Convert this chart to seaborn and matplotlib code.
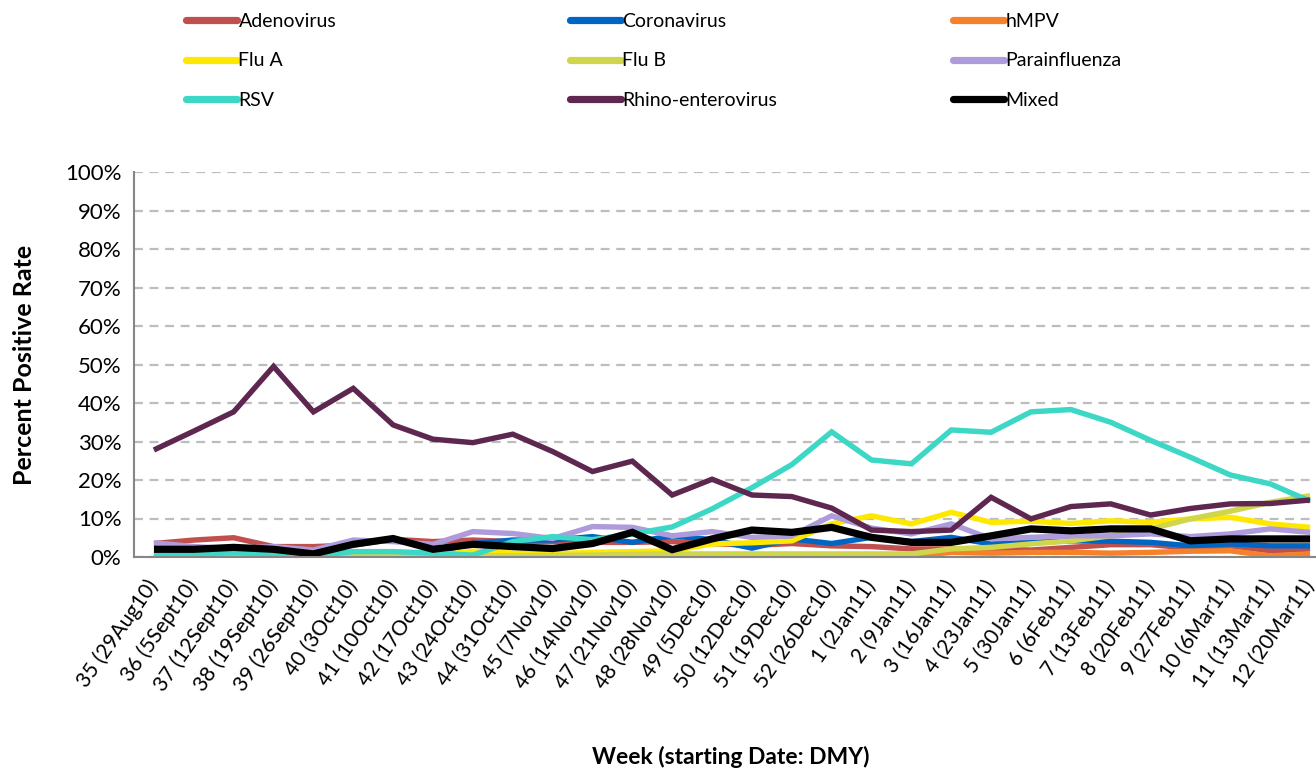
import numpy as np
import pandas as pd
import matplotlib
matplotlib.use("Agg")
import matplotlib.pyplot as plt
import matplotlib.transforms as mtransforms
import seaborn as sns
from matplotlib.lines import Line2D

# ── data (percent positive per week) ─────────────────────────────────────────
weeks = [
    "35 (29Aug10)", "36 (5Sept10)", "37 (12Sept10)", "38 (19Sept10)", "39 (26Sept10)",
    "40 (3Oct10)", "41 (10Oct10)", "42 (17Oct10)", "43 (24Oct10)", "44 (31Oct10)",
    "45 (7Nov10)", "46 (14Nov10)", "47 (21Nov10)", "48 (28Nov10)", "49 (5Dec10)",
    "50 (12Dec10)", "51 (19Dec10)", "52 (26Dec10)", "1 (2Jan11)", "2 (9Jan11)",
    "3 (16Jan11)", "4 (23Jan11)", "5 (30Jan11)", "6 (6Feb11)", "7 (13Feb11)",
    "8 (20Feb11)", "9 (27Feb11)", "10 (6Mar11)", "11 (13Mar11)", "12 (20Mar11)",
]

adenovirus = [3.5, 4.4, 5.0, 2.7, 2.7, 3.1, 4.6, 4.0, 4.4, 4.0, 4.0, 3.8, 3.8, 4.0, 3.5,
              3.0, 3.5, 2.9, 2.7, 2.1, 2.1, 2.1, 1.8, 2.5, 3.2, 3.2, 2.3, 2.9, 1.6, 2.1]
coronavirus = [0.3, 0.3, 0.3, 0.3, 0.3, 0.5, 0.8, 1.0, 3.5, 4.4, 4.4, 5.3, 3.8, 5.5, 4.5,
               2.3, 4.7, 3.5, 5.1, 4.0, 5.1, 3.4, 3.8, 4.2, 4.1, 3.8, 2.9, 3.4, 2.9, 2.9]
hmpv = [0.2, 0.2, 0.2, 0.2, 0.2, 0.2, 0.2, 0.2, 0.2, 0.2, 0.2, 0.2, 0.2, 0.2, 0.2,
        0.2, 0.2, 0.2, 0.2, 0.2, 1.2, 1.0, 1.2, 1.2, 1.0, 1.2, 1.5, 1.6, 0.3, 0.8]
flu_a = [0.3, 0.3, 0.3, 0.3, 0.3, 0.3, 0.3, 0.3, 1.5, 1.0, 0.8, 1.2, 1.4, 1.6, 3.4,
         3.7, 4.2, 8.6, 10.7, 8.6, 11.6, 9.0, 9.3, 8.7, 9.4, 9.0, 9.9, 10.3, 8.6, 7.7]
flu_b = [0.2, 0.2, 0.2, 0.2, 0.2, 0.2, 0.3, 0.3, 0.3, 0.3, 0.4, 0.5, 0.7, 0.8, 0.8,
         0.8, 0.8, 0.8, 0.8, 0.8, 2.1, 2.5, 3.4, 4.2, 5.5, 7.3, 9.9, 11.9, 14.2, 15.9]
parainfluenza = [3.7, 2.7, 2.2, 2.7, 1.8, 4.4, 4.0, 3.3, 6.6, 6.1, 4.8, 7.9, 7.7, 5.5, 6.6,
                 5.1, 5.5, 10.7, 7.5, 6.0, 8.6, 4.7, 5.1, 5.5, 5.5, 6.0, 5.3, 6.0, 7.3, 6.4]
rsv = [0.5, 0.8, 1.1, 0.8, 0.3, 1.4, 1.4, 1.0, 0.5, 4.0, 5.3, 4.5, 6.0, 7.8, 12.5,
       18.0, 24.0, 32.5, 25.2, 24.2, 33.0, 32.4, 37.7, 38.3, 35.0, 30.3, 25.9, 21.3, 19.0, 14.5]
rhino = [27.8, 32.7, 37.7, 49.5, 37.7, 43.8, 34.3, 30.6, 29.7, 31.9, 27.4, 22.2, 24.9, 16.1, 20.2,
         16.1, 15.7, 12.7, 7.0, 6.6, 7.0, 15.5, 9.9, 13.1, 13.8, 10.9, 12.6, 13.8, 13.9, 14.8]
mixed = [2.0, 2.0, 2.5, 2.0, 0.8, 3.3, 4.8, 2.0, 3.3, 2.7, 2.2, 3.5, 6.4, 1.9, 4.7,
         7.0, 6.4, 7.7, 5.1, 3.8, 3.8, 5.5, 7.3, 6.8, 7.3, 7.3, 4.2, 4.7, 4.7, 4.7]

series_names = ["Adenovirus", "Coronavirus", "hMPV", "Flu A", "Flu B",
                "Parainfluenza", "RSV", "Rhino-enterovirus", "Mixed"]
series_values = [adenovirus, coronavirus, hmpv, flu_a, flu_b,
                 parainfluenza, rsv, rhino, mixed]
colors = ["#C0504D", "#0066C4", "#F5822A", "#FFE800", "#CFD64B",
          "#AE9BDB", "#3CD7C5", "#5E2750", "#000000"]

df = pd.concat([
    pd.DataFrame({"week": np.arange(len(weeks)), "virus": n, "rate": v})
    for n, v in zip(series_names, series_values)
])

# ── style ────────────────────────────────────────────────────────────────────
sns.set_style("white")
plt.rcParams["font.family"] = ["Lato", "DejaVu Sans"]
plt.rcParams["text.color"] = "black"
plt.rcParams["xtick.labelcolor"] = "black"
plt.rcParams["ytick.labelcolor"] = "black"

fig = plt.figure(figsize=(13.16, 7.73), dpi=100)
W, H = 1316, 773
ax = fig.add_axes([134 / W, 1 - 557 / H, (1330 - 134) / W, 385 / H])

for name, col in zip(series_names, colors):
    lw = 5.2 if name == "Mixed" else 3.9
    sns.lineplot(data=df[df["virus"] == name], x="week", y="rate",
                 color=col, linewidth=lw, ax=ax, legend=False,
                 solid_joinstyle="miter", solid_capstyle="butt")

ax.set_xlim(-0.5, len(weeks) - 0.5)
ax.set_ylim(0, 100)
ax.set_yticks(np.arange(0, 101, 10))
ax.set_yticklabels([f"{v}%" for v in range(0, 101, 10)], fontsize=16)
ax.yaxis.grid(True, color="#BDBDBD", linestyle=(0, (4, 3)), linewidth=1.6)
ax.xaxis.grid(False)

ax.set_xticks(np.arange(len(weeks)))
ax.set_xticklabels(weeks, rotation=55, ha="right", va="center",
                   rotation_mode="anchor", fontsize=15)
shift = mtransforms.ScaledTranslation(-4 / 100, 0, fig.dpi_scale_trans)
for lbl in ax.get_xticklabels():
    lbl.set_transform(lbl.get_transform() + shift)
ax.set_xticks(np.arange(-0.5, len(weeks)), minor=True)
ax.tick_params(axis="x", which="major", length=0, pad=18)
ax.tick_params(axis="x", which="minor", length=5, width=1.2, color="#868686", direction="out")
ax.tick_params(axis="y", length=5, width=1.2, color="#868686", direction="out", pad=4)

for s in ["top", "right"]:
    ax.spines[s].set_visible(False)
for s in ["left", "bottom"]:
    ax.spines[s].set_color("#868686")
    ax.spines[s].set_linewidth(1.5)

ax.set_xlabel("")
ax.set_ylabel("")
fig.text(25 / W, 1 - 365 / H, "Percent Positive Rate", rotation=90, fontsize=18,
         fontweight="bold", ha="center", va="center")
fig.text(731 / W, 1 - 757 / H, "Week (starting Date: DMY)", fontsize=16.5,
         fontweight="bold", ha="center", va="center")

# ── legend: three columns, filled row by row ─────────────────────────────────
col_x = [186, 570, 953]
for c in range(3):
    idx = [c, c + 3, c + 6]
    handles = [Line2D([0], [0], color=colors[i], linewidth=5.2) for i in idx]
    labels = [series_names[i] for i in idx]
    fig.legend(handles, labels, loc="upper left",
               bbox_to_anchor=(col_x[c] / W, 1 - 13 / H),
               frameon=False, fontsize=14, handlelength=2.6,
               handletextpad=0.1, labelspacing=1.15,
               borderpad=0, borderaxespad=0)

fig.savefig("out.png", dpi=100)
